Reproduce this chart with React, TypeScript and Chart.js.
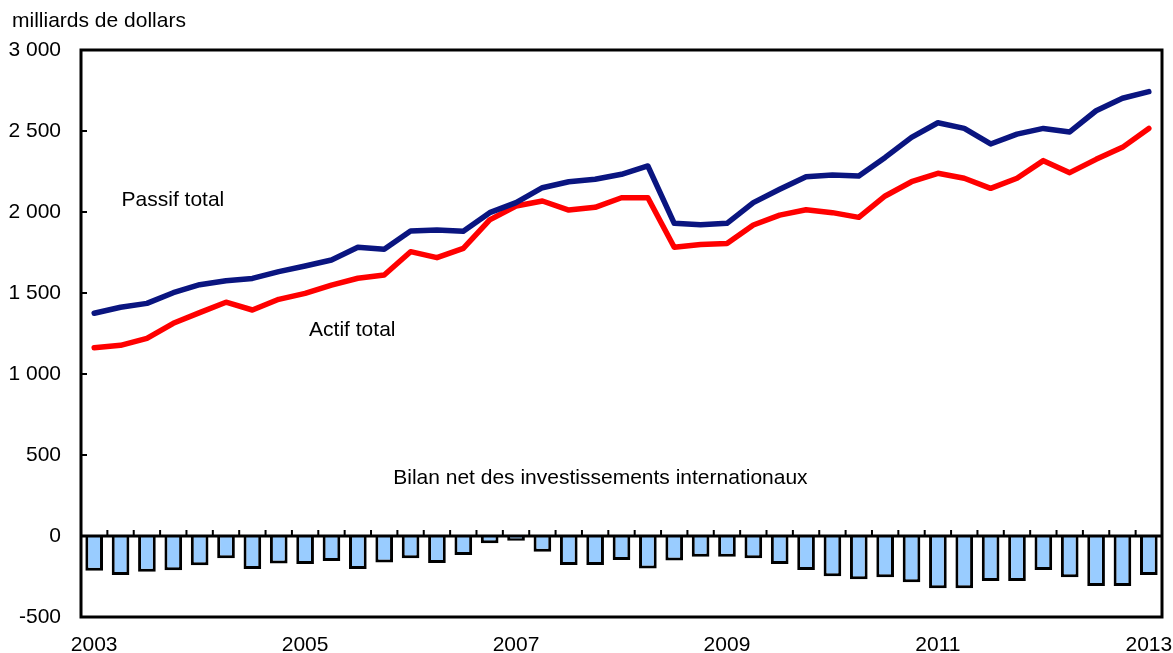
import React, { useEffect, useRef } from 'react';
import { Chart, registerables } from 'chart.js';

Chart.register(...registerables);

const quarters = [
  '2003T1', '2003T2', '2003T3', '2003T4',
  '2004T1', '2004T2', '2004T3', '2004T4',
  '2005T1', '2005T2', '2005T3', '2005T4',
  '2006T1', '2006T2', '2006T3', '2006T4',
  '2007T1', '2007T2', '2007T3', '2007T4',
  '2008T1', '2008T2', '2008T3', '2008T4',
  '2009T1', '2009T2', '2009T3', '2009T4',
  '2010T1', '2010T2', '2010T3', '2010T4',
  '2011T1', '2011T2', '2011T3', '2011T4',
  '2012T1', '2012T2', '2012T3', '2012T4',
  '2013T1',
];

const yearLabels = ['2003', '2005', '2007', '2009', '2011', '2013'];

const passifTotal = [
  1375, 1412, 1436, 1502, 1551, 1576, 1590, 1632, 1667, 1704, 1782, 1770, 1883, 1889,
  1881, 1996, 2058, 2150, 2187, 2202, 2233, 2284, 1930, 1922, 1930, 2058, 2140, 2218,
  2228, 2222, 2337, 2461, 2551, 2516, 2420, 2481, 2516, 2494, 2625, 2702, 2743,
];

const actifTotal = [
  1162, 1177, 1220, 1313, 1379, 1443, 1395, 1461, 1498, 1549, 1591, 1611, 1755, 1718,
  1776, 1951, 2037, 2068, 2012, 2029, 2088, 2088, 1782, 1800, 1806, 1920, 1981, 2014,
  1996, 1967, 2099, 2187, 2239, 2208, 2146, 2208, 2317, 2243, 2325, 2399, 2516,
];

const bilanNet = [
  -214, -241, -220, -212, -181, -138, -204, -169, -173, -154, -204, -163, -138, -167,
  -117, -45, -29, -97, -179, -179, -148, -200, -152, -128, -128, -138, -173, -210,
  -249, -267, -255, -286, -323, -323, -278, -278, -210, -255, -309, -309, -241,
];

const FONT = '"Liberation Sans", Arial, Helvetica, sans-serif';
const FS = 21;

function fmt(v: number): string {
  const s = String(Math.abs(v));
  const body = s.length > 3 ? s.slice(0, s.length - 3) + ' ' + s.slice(s.length - 3) : s;
  return (v < 0 ? '-' : '') + body;
}

const framePlugin = {
  id: 'framePlugin',
  afterDatasetsDraw(chart: any) {
    const { ctx, chartArea: a, scales } = chart;
    const x = scales.x;
    const y = scales.y;
    ctx.save();
    ctx.strokeStyle = '#000';
    const y0 = y.getPixelForValue(0);
    // zero line
    ctx.lineWidth = 3;
    ctx.beginPath();
    ctx.moveTo(a.left, y0);
    ctx.lineTo(a.right, y0);
    ctx.stroke();
    // category boundary ticks on zero line
    ctx.lineWidth = 2;
    ctx.beginPath();
    for (let i = 1; i < quarters.length; i++) {
      const px = (x.getPixelForValue(i - 1) + x.getPixelForValue(i)) / 2;
      ctx.moveTo(px, y0);
      ctx.lineTo(px, y0 - 6);
    }
    // y ticks inward
    for (const t of y.ticks) {
      const py = y.getPixelForValue(t.value);
      ctx.moveTo(a.left, py);
      ctx.lineTo(a.left + 6, py);
    }
    ctx.stroke();
    // frame
    ctx.lineWidth = 3;
    ctx.strokeRect(a.left, a.top, a.right - a.left, a.bottom - a.top);

    // annotations
    ctx.fillStyle = '#000';
    ctx.font = FS + 'px ' + FONT;
    ctx.textBaseline = 'middle';
    ctx.textAlign = 'left';
    ctx.fillText('Passif total', x.getPixelForValue(1) + 1, y.getPixelForValue(2074));
    ctx.fillText('Actif total', x.getPixelForValue(8) + 4, y.getPixelForValue(1272));
    ctx.fillText(
      'Bilan net des investissements internationaux',
      x.getPixelForValue(11) + 9,
      y.getPixelForValue(358)
    );
    ctx.fillText('milliards de dollars', 12, 21);
    ctx.restore();
  },
};

export default function App() {
  const ref = useRef<HTMLCanvasElement | null>(null);

  useEffect(() => {
    if (!ref.current) return;
    const chart = new Chart(ref.current, {
      type: 'bar',
      data: {
        labels: quarters,
        datasets: [
          {
            type: 'line',
            label: 'Passif total',
            data: passifTotal,
            borderColor: '#0a1580',
            backgroundColor: '#0a1580',
            borderWidth: 5.5,
            pointRadius: 0,
            tension: 0,
            borderCapStyle: 'round',
            borderJoinStyle: 'round',
          } as any,
          {
            type: 'line',
            label: 'Actif total',
            data: actifTotal,
            borderColor: '#ff0000',
            backgroundColor: '#ff0000',
            borderWidth: 5.5,
            pointRadius: 0,
            tension: 0,
            borderCapStyle: 'round',
            borderJoinStyle: 'round',
          } as any,
          {
            type: 'bar',
            label: 'Bilan net des investissements internationaux',
            data: bilanNet,
            backgroundColor: '#99ccff',
            borderColor: '#000000',
            borderWidth: 3,
            borderSkipped: 'start',
            barPercentage: 0.67,
            categoryPercentage: 1,
          } as any,
        ],
      },
      options: {
        animation: false,
        responsive: true,
        maintainAspectRatio: false,
        layout: { padding: { left: 8, top: 50, right: 11, bottom: 0 } },
        plugins: {
          legend: { display: false },
          tooltip: { enabled: false },
          title: { display: false },
        },
        scales: {
          x: {
            offset: true,
            grid: { display: false },
            border: { display: false },
            afterFit: (s: any) => {
              s.height = 36;
              s.paddingLeft = 0;
              s.paddingRight = 0;
            },
            ticks: {
              autoSkip: false,
              maxRotation: 0,
              minRotation: 0,
              padding: 8,
              color: '#000',
              font: { family: FONT, size: FS },
              callback: (_v: any, i: number) => (i % 8 === 0 ? yearLabels[i / 8] : ''),
            },
          },
          y: {
            min: -500,
            max: 3000,
            grid: { display: false },
            border: { display: false },
            afterFit: (s: any) => {
              s.width = 73;
              s.paddingTop = 0;
              s.paddingBottom = 0;
            },
            ticks: {
              stepSize: 500,
              padding: 12,
              color: '#000',
              font: { family: FONT, size: FS },
              callback: (v: any) => fmt(Number(v)),
            },
          },
        },
      },
      plugins: [framePlugin],
    });
    return () => chart.destroy();
  }, []);

  return (
    <div style={{ position: 'fixed', left: 0, top: 0, width: 1173, height: 653, background: '#fff' }}>
      <canvas ref={ref} />
    </div>
  );
}
